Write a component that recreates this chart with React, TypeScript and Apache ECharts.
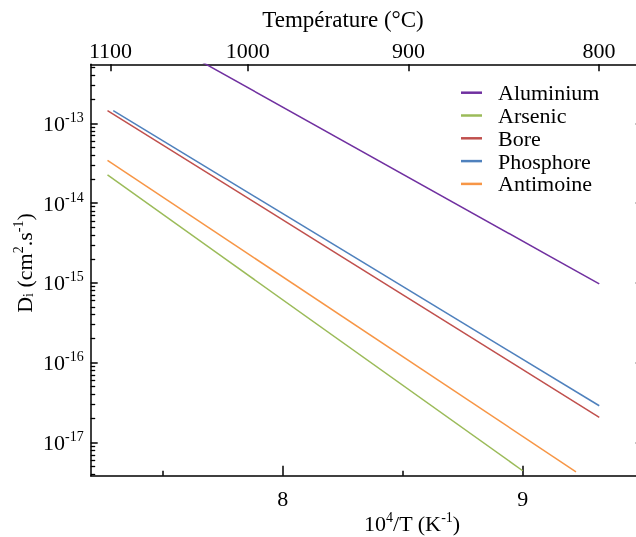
import React, { useEffect, useRef } from "react";
import * as echarts from "echarts";

const FONT = "Liberation Serif";

const seriesNames = ["Aluminium", "Arsenic", "Bore", "Phosphore", "Antimoine"];
const seriesColors = ["#7030a0", "#9bbb59", "#c0504d", "#4f81bd", "#f79646"];

// 10^4/T (K^-1) and D_i (cm^2.s^-1) endpoints
const aluminiumX = [7.283, 9.319];
const aluminiumY = [2.55e-12, 9.7e-16];
const arsenicX = [7.27, 9.0];
const arsenicY = [2.25e-14, 4.43e-18];
const boreX = [7.27, 9.319];
const boreY = [1.44e-13, 2.07e-17];
const phosphoreX = [7.294, 9.319];
const phosphoreY = [1.44e-13, 2.89e-17];
const antimoineX = [7.27, 9.222];
const antimoineY = [3.43e-14, 4.3e-18];

const bottomMajorTicks = [8, 9];
const bottomMinorTicks = [7.5, 8.5];
const tempLabels = [1100, 1000, 900, 800];
const decadeExps = [-13, -14, -15, -16, -17];
const minorMultipliers = [2, 3, 4, 5, 6, 7, 8, 9];

const X_MIN = 7.2;
const X_MAX = 9.5;
const Y_MIN = 3.84e-18;
const Y_MAX = 5.48e-13;

const xs = [aluminiumX, arsenicX, boreX, phosphoreX, antimoineX];
const ys = [aluminiumY, arsenicY, boreY, phosphoreY, antimoineY];

export default function App() {
  const ref = useRef<HTMLDivElement>(null);
  useEffect(() => {
    document.body.style.overflow = "hidden";
    const chart = echarts.init(ref.current!, null, { renderer: "svg" });
    const tempPos = tempLabels.map((t) => 1e4 / (t + 273.15));
    const decades = decadeExps.map((e) => Math.pow(10, e));
    const lmin = Math.log10(Y_MIN);
    const lmax = Math.log10(Y_MAX);
    const minorLog: number[] = [];
    for (let e = -18; e <= -13; e++) {
      for (const k of minorMultipliers) {
        const lv = e + Math.log10(k);
        if (lv > lmin && lv < lmax) minorLog.push(lv);
      }
    }
    const lineColor = "#000";
    const empty = () => "";
    const supRich = {
      b: { fontFamily: FONT, fontSize: 22, color: "#000" },
      s: { fontFamily: FONT, fontSize: 14, color: "#000", padding: [0, 0, 12, 0] },
    };
    const commonX = { type: "value", min: X_MIN, max: X_MAX, splitLine: { show: false } };
    const commonY = { type: "log", logBase: 10, min: Y_MIN, max: Y_MAX, splitLine: { show: false } };
    chart.setOption({
      animation: false,
      grid: { left: 90.7, top: 64.3, width: 552, height: 411.4, containLabel: false, outerBoundsMode: "none" },
      legend: {
        orient: "vertical",
        left: 461,
        top: 81.7,
        padding: 0,
        itemGap: 0.8,
        itemWidth: 21,
        itemHeight: 2.5,
        icon: "rect",
        data: seriesNames,
        textStyle: { fontFamily: FONT, fontSize: 22, color: "#000", lineHeight: 20, padding: [0, 0, 0, 11] },
      },
      xAxis: [
        {
          ...commonX,
          position: "bottom",
          axisLine: { show: true, lineStyle: { color: lineColor, width: 1.5 } },
          axisTick: { show: true, inside: true, length: 10, customValues: bottomMajorTicks, lineStyle: { color: lineColor, width: 1.5 } },
          axisLabel: { show: true, customValues: bottomMajorTicks, margin: 12, fontFamily: FONT, fontSize: 22, color: "#000" },
        },
        {
          ...commonX,
          position: "top",
          axisLine: { show: true, lineStyle: { color: lineColor, width: 1.5 } },
          axisTick: { show: true, inside: true, length: 7, customValues: tempPos, lineStyle: { color: lineColor, width: 1.5 } },
          axisLabel: {
            show: true,
            customValues: tempPos,
            margin: 3,
            fontFamily: FONT,
            fontSize: 22,
            color: "#000",
            formatter: (v: number) => String(Math.round(1e4 / v - 273.15)),
          },
        },
        {
          ...commonX,
          position: "bottom",
          axisLine: { show: false },
          axisTick: { show: true, inside: true, length: 5, customValues: bottomMinorTicks, lineStyle: { color: lineColor, width: 1.5 } },
          axisLabel: { show: true, customValues: bottomMinorTicks, formatter: empty },
        },
      ],
      yAxis: [
        {
          ...commonY,
          position: "left",
          axisLine: { show: true, lineStyle: { color: lineColor, width: 1.5 } },
          axisTick: { show: true, inside: true, length: 7, customValues: decades, lineStyle: { color: lineColor, width: 1.5 } },
          axisLabel: {
            show: true,
            customValues: decades,
            margin: 7,
            formatter: (v: number) => `{b|10}{s|${Math.round(Math.log10(v))}}`,
            rich: supRich,
          },
        },
        {
          type: "value",
          min: lmin,
          max: lmax,
          splitLine: { show: false },
          position: "left",
          axisLine: { show: false },
          axisTick: { show: true, inside: true, length: 4.5, customValues: minorLog, lineStyle: { color: lineColor, width: 1.3 } },
          axisLabel: { show: true, customValues: minorLog, formatter: empty },
        },
        {
          ...commonY,
          position: "right",
          axisLine: { show: true, lineStyle: { color: lineColor, width: 1.5 } },
          axisTick: { show: true, inside: true, length: 7, customValues: decades, lineStyle: { color: lineColor, width: 1.5 } },
          axisLabel: { show: true, customValues: decades, formatter: empty },
        },
      ],
      series: seriesNames.map((name, i) => ({
        name,
        type: "line",
        xAxisIndex: 0,
        yAxisIndex: 0,
        symbol: "none",
        color: seriesColors[i],
        lineStyle: { color: seriesColors[i], width: 1.5 },
        data: xs[i].map((x, j) => [x, ys[i][j]]),
      })),
      graphic: [
        {
          type: "text",
          x: 343,
          y: 19,
          style: { text: "Température (°C)", fontFamily: FONT, fontSize: 23, fill: "#000", align: "center", verticalAlign: "middle" },
        },
        {
          type: "text",
          x: 412,
          y: 523,
          style: {
            text: "{b|10}{s|4}{b|/T (K}{s|-1}{b|)}",
            rich: supRich,
            align: "center",
            verticalAlign: "middle",
          },
        },
        {
          type: "text",
          x: 24,
          y: 263,
          rotation: Math.PI / 2,
          style: {
            text: "{b|D}{d|i}{b| (cm}{s|2}{b|.s}{s|-1}{b|)}",
            rich: {
              ...supRich,
              d: { fontFamily: FONT, fontSize: 14, color: "#000", padding: [8, 0, 0, 0] },
            },
            align: "center",
            verticalAlign: "middle",
          },
        },
      ],
    });
    return () => chart.dispose();
  }, []);
  return (
    <div
      ref={ref}
      style={{ position: "fixed", left: 0, top: 0, width: 700, height: 537 }}
    />
  );
}
